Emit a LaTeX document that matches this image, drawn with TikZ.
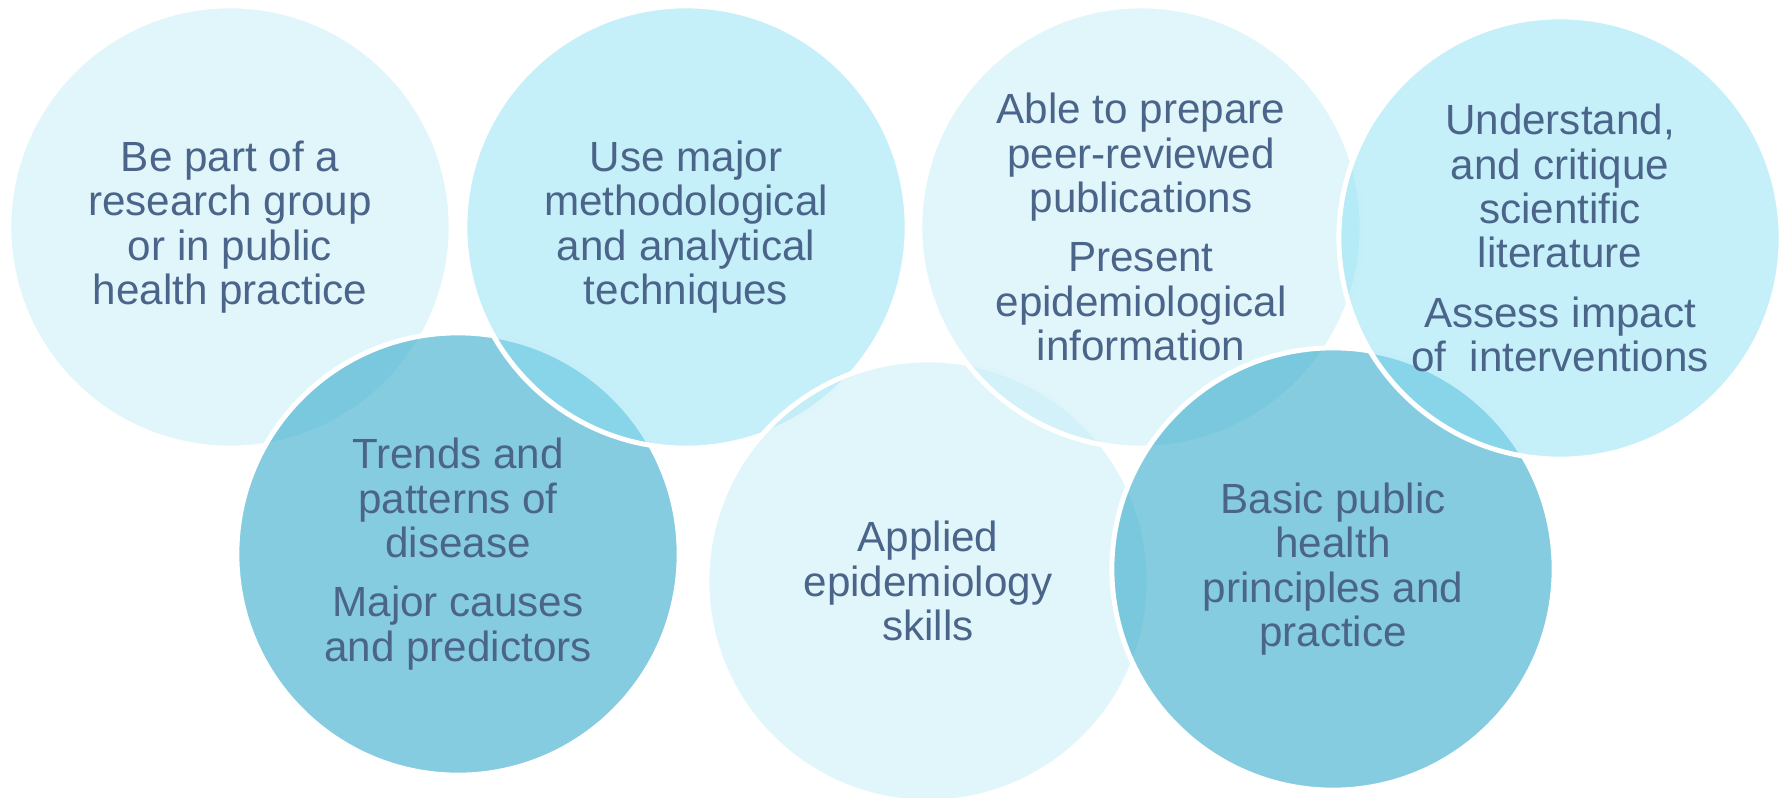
\documentclass[tikz,border=0pt]{standalone}
\usepackage{fontspec}
\setmainfont{Liberation Sans}
\usepackage{tikz}
\definecolor{inkblue}{RGB}{75,101,138}
\definecolor{palefill}{RGB}{195,237,247}
\definecolor{skyfill}{RGB}{139,223,243}
\definecolor{tealfill}{RGB}{53,170,203}
\tikzset{
  bubble/.style={circle,draw=white,line width=1.4pt,minimum size=4.42cm,inner sep=0pt,
    align=center,text=inkblue,text opacity=1,font=\fontsize{12}{12.6}\selectfont},
  pale/.style={bubble,fill=palefill,fill opacity=0.5},
  sky/.style={bubble,fill=skyfill,fill opacity=0.5},
  teal/.style={bubble,fill=tealfill,fill opacity=0.6}
}
\begin{document}
\begin{tikzpicture}[x=0.01cm,y=-0.01cm]
  \useasboundingbox (0,0) rectangle (1785,797);
  \node[pale] (research) at (230,227) {Be part of a\\research group\\or in public\\health practice};
  \node[teal] (trends) at (458,554) {Trends and\\patterns of\\disease\\[4.3pt]Major causes\\and predictors};
  \node[sky] (methods) at (686,227) {Use major\\methodological\\and analytical\\techniques};
  \node[pale] (applied) at (928,581) {Applied\\epidemiology\\skills};
  \node[pale] (publish) at (1141,227) {Able to prepare\\peer-reviewed\\publications\\[4.3pt]Present\\epidemiological\\information};
  \node[teal] (basics) at (1333,569) {Basic public\\health\\principles and\\practice};
  \node[sky] (critique) at (1560,238) {Understand,\\and critique\\scientific\\literature\\[4.3pt]Assess impact\\of~~interventions};
\end{tikzpicture}
\end{document}
